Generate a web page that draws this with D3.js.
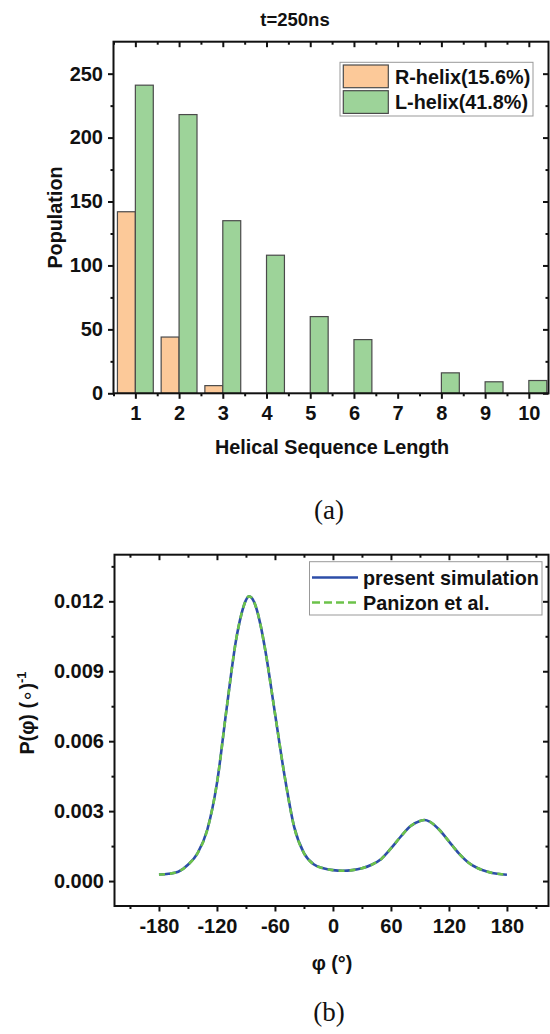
<!DOCTYPE html>
<html><head><meta charset="utf-8">
<script src="https://cdn.jsdelivr.net/npm/d3@7"></script>
<style>
body{margin:0;background:#fff;}
svg{display:block;}
text{font-family:"Liberation Sans",Arial,sans-serif;font-weight:bold;fill:#111;}
.cap{font-family:"Liberation Serif","Times New Roman",serif;font-weight:normal;}
</style></head><body>
<svg id="c" width="550" height="1034"></svg>
<script>
// ---------- data: panel (a) ----------
const categories = [1,2,3,4,5,6,7,8,9,10];
const rHelix = [142,44,6,0,0,0,0,0,0,0];
const lHelix = [241,218,135,108,60,42,0,16,9,10];
const seriesNames = ["R-helix(15.6%)","L-helix(41.8%)"];
const popTicks = [0,50,100,150,200,250];
const popMinor = [25,75,125,175,225];
const catMinor = [0.5,1.5,2.5,3.5,4.5,5.5,6.5,7.5,8.5,9.5];
// ---------- data: panel (b) ----------
const phi = [-180,-170,-160,-150,-140,-130,-120,-110,-100,-95,-90,-87,-84,-80,-75,-70,-60,-50,-40,-30,-20,-10,0,10,20,30,40,50,60,70,80,90,95,100,110,120,130,140,150,160,170,180];
const present = [0.00028,0.00031,0.00040,0.00070,0.00120,0.00220,0.00420,0.00740,0.01040,0.01140,0.01205,0.01222,0.01215,0.01180,0.01100,0.00990,0.00720,0.00450,0.00230,0.00120,0.00072,0.00055,0.00047,0.00044,0.00047,0.00055,0.00070,0.00095,0.00140,0.00190,0.00235,0.00258,0.00262,0.00255,0.00220,0.00170,0.00120,0.00080,0.00055,0.00040,0.00031,0.00027];
const panizon = [0.00028,0.00031,0.00040,0.00070,0.00120,0.00220,0.00420,0.00740,0.01040,0.01140,0.01205,0.01222,0.01215,0.01180,0.01100,0.00990,0.00720,0.00450,0.00230,0.00120,0.00072,0.00055,0.00047,0.00044,0.00047,0.00055,0.00070,0.00095,0.00140,0.00190,0.00235,0.00258,0.00262,0.00255,0.00220,0.00170,0.00120,0.00080,0.00055,0.00040,0.00031,0.00027];
const lineNames = ["present simulation","Panizon et al."];
const phiTicks = [-180,-120,-60,0,60,120,180];
const phiMinor = [-210,-150,-90,-30,30,90,150,210];
const pTicks = [0,0.003,0.006,0.009,0.012];
const pMinor = [0.0015,0.0045,0.0075,0.0105,0.0135];

const svg = d3.select("#c");
const TICK = 5.5, MINOR = 3, FS = 20;

function styleAxis(g){
  g.select(".domain").remove();
  g.selectAll(".tick line").attr("stroke","#111").attr("stroke-width",2);
  g.selectAll(".tick text").style("font-size",FS+"px").attr("fill","#111");
}

// ================= panel (a) =================
const A = {l:113.5, r:548.5, t:41.7, b:393.3};
const xA = d3.scaleLinear().domain([0.5,10.45]).range([A.l,A.r]);
const yA = d3.scaleLinear().domain([0,275]).range([A.b,A.t]);
const bw = 0.41;
const colR = "#FCC999", colL = "#9DD399";
const gA = svg.append("g");

gA.selectAll("rect.r").data(categories.filter((d,i)=>rHelix[i]>0)).join("rect")
  .attr("x", d=>xA(d-bw)).attr("width", d=>xA(d)-xA(d-bw))
  .attr("y", d=>yA(rHelix[d-1])).attr("height", d=>yA(0)-yA(rHelix[d-1]))
  .attr("fill",colR).attr("stroke","#4a4a4a").attr("stroke-width",1.2);
gA.selectAll("rect.l").data(categories.filter((d,i)=>lHelix[i]>0)).join("rect")
  .attr("x", d=>xA(d)).attr("width", d=>xA(d+bw)-xA(d))
  .attr("y", d=>yA(lHelix[d-1])).attr("height", d=>yA(0)-yA(lHelix[d-1]))
  .attr("fill",colL).attr("stroke","#4a4a4a").attr("stroke-width",1.2);

gA.append("g").attr("transform",`translate(${A.l},0)`)
  .call(d3.axisLeft(yA).tickValues(popTicks).tickSize(TICK).tickPadding(5)).call(styleAxis);
gA.append("g").attr("transform",`translate(${A.l},0)`)
  .call(d3.axisLeft(yA).tickValues(popMinor).tickSize(MINOR).tickFormat("")).call(styleAxis);
gA.append("g").attr("transform",`translate(${A.r},0)`)
  .call(d3.axisLeft(yA).tickValues(popTicks).tickSize(TICK).tickFormat("")).call(styleAxis);
gA.append("g").attr("transform",`translate(${A.r},0)`)
  .call(d3.axisLeft(yA).tickValues(popMinor).tickSize(MINOR).tickFormat("")).call(styleAxis);
gA.append("g").attr("transform",`translate(0,${A.b})`)
  .call(d3.axisBottom(xA).tickValues(categories).tickSize(TICK).tickPadding(7.5)).call(styleAxis);
gA.append("g").attr("transform",`translate(0,${A.b})`)
  .call(d3.axisBottom(xA).tickValues(catMinor).tickSize(MINOR).tickFormat("")).call(styleAxis);
gA.append("g").attr("transform",`translate(0,${A.t})`)
  .call(d3.axisBottom(xA).tickValues(categories).tickSize(TICK).tickFormat("")).call(styleAxis);
gA.append("g").attr("transform",`translate(0,${A.t})`)
  .call(d3.axisBottom(xA).tickValues(catMinor).tickSize(MINOR).tickFormat("")).call(styleAxis);
gA.append("rect").attr("x",A.l).attr("y",A.t).attr("width",A.r-A.l).attr("height",A.b-A.t)
  .attr("fill","none").attr("stroke","#111").attr("stroke-width",2);

gA.append("text").attr("x",295).attr("y",26).attr("text-anchor","middle").style("font-size","18.5px").text("t=250ns");
gA.append("text").attr("x",332).attr("y",454).attr("text-anchor","middle").style("font-size","19.8px").text("Helical Sequence Length");
gA.append("text").attr("transform",`translate(62,${(A.t+A.b)/2}) rotate(-90)`).attr("text-anchor","middle").style("font-size","19.8px").text("Population");

const legA = gA.append("g");
legA.append("rect").attr("x",340).attr("y",62.3).attr("width",193).attr("height",53.7).attr("fill","#fff").attr("stroke","#999").attr("stroke-width",1);
[colR,colL].forEach((c,i)=>{
  legA.append("rect").attr("x",343.3).attr("y",65+i*25.7).attr("width",45).attr("height",22.7).attr("fill",c).attr("stroke","#4a4a4a").attr("stroke-width",1.2);
  legA.append("text").attr("x",395).attr("y",84+i*25).style("font-size","19.8px").text(seriesNames[i]);
});
gA.append("text").attr("class","cap").attr("x",329).attr("y",519).attr("text-anchor","middle").style("font-size","27px").text("(a)");

// ================= panel (b) =================
const B = {l:114.5, r:548.5, t:554.7, b:906};
const xB = d3.scaleLinear().domain([-226,223]).range([B.l,B.r]);
const yB = d3.scaleLinear().domain([-0.00107,0.014]).range([B.b,B.t]);
const gB = svg.append("g");
const fmt3 = d3.format(".3f");

gB.append("g").attr("transform",`translate(${B.l},0)`)
  .call(d3.axisLeft(yB).tickValues(pTicks).tickSize(TICK).tickPadding(5).tickFormat(fmt3)).call(styleAxis);
gB.append("g").attr("transform",`translate(${B.l},0)`)
  .call(d3.axisLeft(yB).tickValues(pMinor).tickSize(MINOR).tickFormat("")).call(styleAxis);
gB.append("g").attr("transform",`translate(${B.r},0)`)
  .call(d3.axisLeft(yB).tickValues(pTicks).tickSize(TICK).tickFormat("")).call(styleAxis);
gB.append("g").attr("transform",`translate(${B.r},0)`)
  .call(d3.axisLeft(yB).tickValues(pMinor).tickSize(MINOR).tickFormat("")).call(styleAxis);
gB.append("g").attr("transform",`translate(0,${B.b})`)
  .call(d3.axisBottom(xB).tickValues(phiTicks).tickSize(TICK).tickPadding(7.5).tickFormat(d=>String(d))).call(styleAxis);
gB.append("g").attr("transform",`translate(0,${B.b})`)
  .call(d3.axisBottom(xB).tickValues(phiMinor).tickSize(MINOR).tickFormat("")).call(styleAxis);
gB.append("g").attr("transform",`translate(0,${B.t})`)
  .call(d3.axisBottom(xB).tickValues(phiTicks).tickSize(TICK).tickFormat("")).call(styleAxis);
gB.append("g").attr("transform",`translate(0,${B.t})`)
  .call(d3.axisBottom(xB).tickValues(phiMinor).tickSize(MINOR).tickFormat("")).call(styleAxis);

const line = d3.line().x((d,i)=>xB(phi[i])).y(d=>yB(d)).curve(d3.curveMonotoneX);
const colBlue = "#2D4EA8", colGreen = "#6CC24A";
gB.append("path").attr("d",line(present)).attr("fill","none").attr("stroke",colBlue).attr("stroke-width",2.6);
gB.append("path").attr("d",line(panizon)).attr("fill","none").attr("stroke",colGreen).attr("stroke-width",2.6).attr("stroke-dasharray","6,5");

gB.append("rect").attr("x",B.l).attr("y",B.t).attr("width",B.r-B.l).attr("height",B.b-B.t)
  .attr("fill","none").attr("stroke","#111").attr("stroke-width",2);

gB.append("text").attr("x",332).attr("y",970).attr("text-anchor","middle").style("font-size","19.8px").text("φ (°)");
const yl = gB.append("text").attr("transform",`translate(34,713) rotate(-90)`).attr("text-anchor","middle").style("font-size","19.8px");
yl.append("tspan").text("P(φ) (");
yl.append("tspan").style("font-family","'DejaVu Sans'").style("font-weight","normal").text("∘");
yl.append("tspan").text(")");
yl.append("tspan").attr("dy",-8).style("font-size","13px").text("-1");

const legB = gB.append("g");
legB.append("rect").attr("x",309.5).attr("y",561.7).attr("width",232.5).attr("height",53.3).attr("fill","#fff").attr("stroke","#999").attr("stroke-width",1);
legB.append("line").attr("x1",312).attr("x2",358).attr("y1",577.5).attr("y2",577.5).attr("stroke",colBlue).attr("stroke-width",2.6);
legB.append("line").attr("x1",312).attr("x2",358).attr("y1",602.5).attr("y2",602.5).attr("stroke",colGreen).attr("stroke-width",2.6).attr("stroke-dasharray","8,4");
lineNames.forEach((n,i)=>legB.append("text").attr("x",363).attr("y",584.5+i*25).style("font-size","19.8px").text(n));

gB.append("text").attr("class","cap").attr("x",329).attr("y",1021).attr("text-anchor","middle").style("font-size","27px").text("(b)");
</script>
</body></html>
